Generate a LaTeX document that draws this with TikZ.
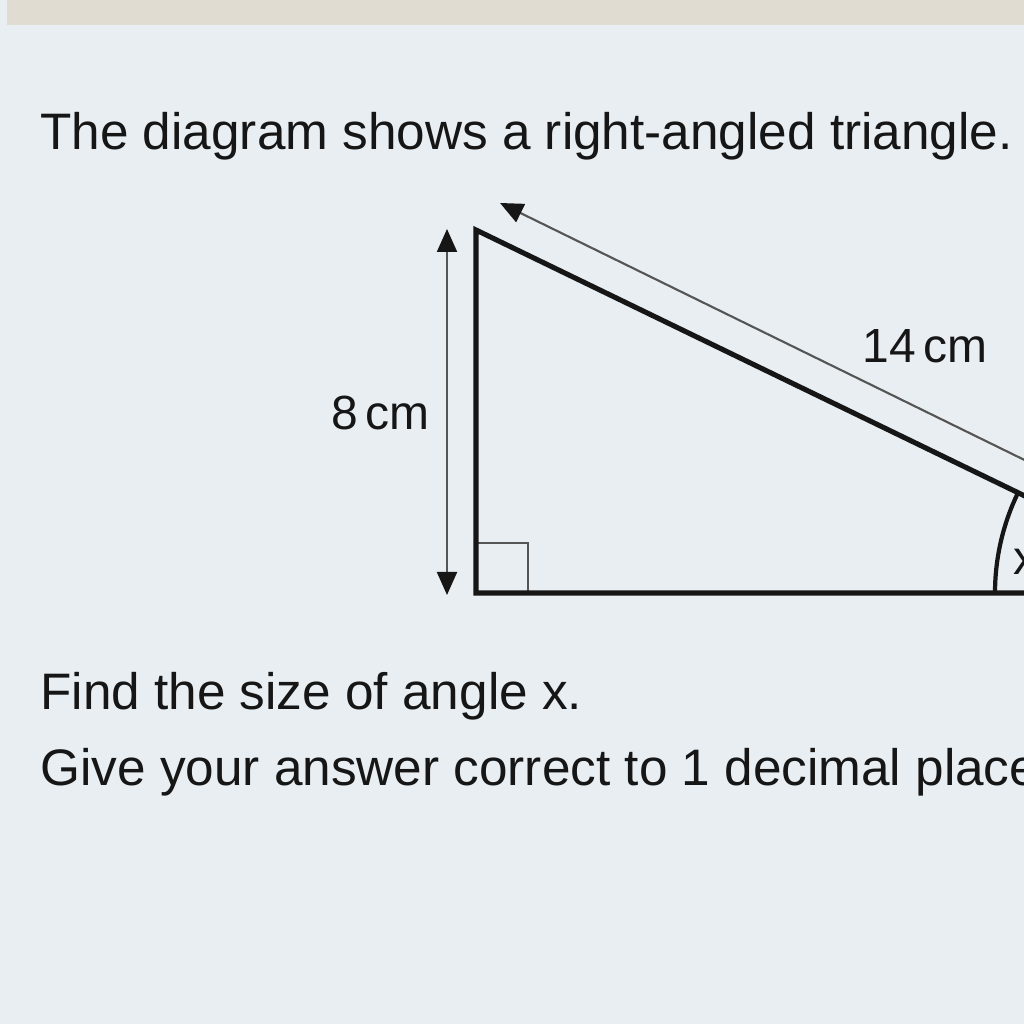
\documentclass[tikz,border=0pt]{standalone}
\usepackage{fontspec}
\setmainfont{Liberation Sans}
\usepackage{xcolor}
\usetikzlibrary{positioning, calc, arrows.meta}
\definecolor{bgColor}{RGB}{232,238,242}
\definecolor{bandColor}{RGB}{224,220,209}
\definecolor{inkColor}{RGB}{22,22,22}
\definecolor{thinColor}{RGB}{85,85,85}
\tikzset{
    triSide/.style={
        draw=inkColor,
        line width=2.9pt,
        line join=miter
    },
    dimArrow/.style={
        {Triangle[width=0.4cm, length=0.46cm, color=inkColor]}-{Triangle[width=0.4cm, length=0.46cm, color=inkColor]},
        draw=thinColor,
        line width=1.2pt
    },
    rightMark/.style={
        draw=thinColor,
        line width=1pt
    },
    questionText/.style={
        anchor=base west,
        inner sep=0pt,
        text=inkColor,
        font=\fontsize{29.2}{35}\selectfont
    },
    sideLabel/.style={
        anchor=base west,
        inner sep=0pt,
        text=inkColor,
        font=\fontsize{27.3}{33}\selectfont
    }
}

\begin{document}
\begin{tikzpicture}[x=0.02cm, y=0.02cm]
    \useasboundingbox (0,0) rectangle (1024,1024);
    \clip (0,0) rectangle (1024,1024);
    \fill[bgColor] (0,0) rectangle (1024,1024);
    \fill[bandColor] (7,999) rectangle (1024,1024);

    % corners of the triangle
    \coordinate (Top) at (476,794);
    \coordinate (Corner) at (476,431);
    \coordinate (Far) at (1225,431);

    \draw[rightMark] (Corner) rectangle ++(52,50);
    \draw[triSide] (Top) -- (Corner) -- (Far) -- cycle;
    \draw[triSide, line width=2.4pt] (Far) ++(180:230) arc[start angle=180, end angle=154.15, radius=230];

    % measuring arrows
    \coordinate (UpTip) at (447,795);
    \coordinate (DownTip) at (447,429);
    \draw[dimArrow] (DownTip) -- (UpTip);
    \coordinate (HypTip) at (500,821);
    \coordinate (HypEnd) at (1250,453.5);
    \draw[dimArrow] (HypEnd) -- (HypTip);

    \node[sideLabel] (Hyp) at (862,661) {14\,cm};
    \node[sideLabel] (Height) at (331,594) {8\,cm};
    \node[sideLabel] (AngleX) at (1013,449) {x};

    \node[questionText] (Intro) at (40,874) {The diagram shows a right-angled triangle.};
    \node[questionText] (Ask) at (40,314) {Find the size of angle x.};
    \node[questionText] (Round) at (40,238) {Give your answer correct to 1 decimal place.};
\end{tikzpicture}
\end{document}
